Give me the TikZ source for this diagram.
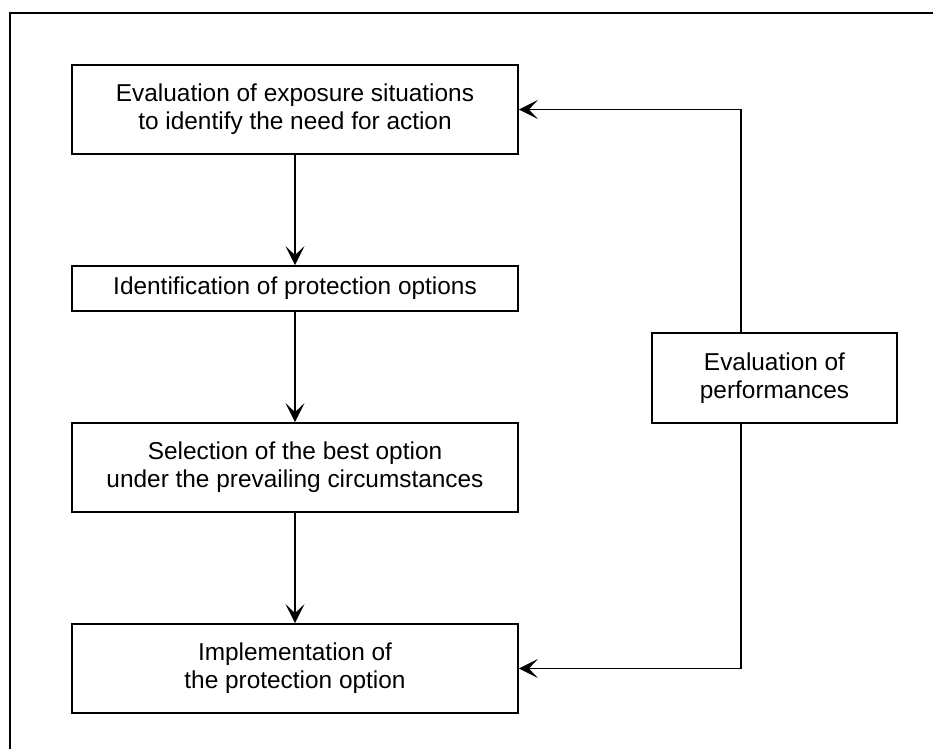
\documentclass[tikz,border=0pt]{standalone}
\usepackage{fontspec}
\setmainfont{Liberation Sans}
\usetikzlibrary{arrows.meta}

\begin{document}
\begin{tikzpicture}[x=1pt, y=-1pt, line width=1.8pt,
		every node/.style={text centered, font=\fontsize{24.4}{28}\selectfont},
		stepbox/.style={rectangle, draw, align=center, inner sep=0pt, minimum width=446pt, minimum height=89pt},
		flow/.style={-{Stealth[length=19pt, width=19pt, inset=9pt]}}]
		\useasboundingbox (0, 0) rectangle (933, 749);
		\draw (10, 749) -- (10, 13) -- (933, 13);

		\draw (295, 109.5)	node[stepbox] (eval)
				{Evaluation of exposure situations\\to identify the need for action}
			(295, 288.5)	node[stepbox, minimum height=45pt] (ident)
				{Identification of protection options}
			(295, 467.5)	node[stepbox] (select)
				{Selection of the best option\\under the prevailing circumstances}
			(295, 668.5)	node[stepbox] (impl)
				{Implementation of\\the protection option}

			(774.5, 378)	node[stepbox, minimum width=245pt, minimum height=90pt] (perf)
				{Evaluation of\\performances}
;
		\coordinate (tap) at (741, 378);

		\draw[flow] (eval) -- (ident);
		\draw[flow] (ident) -- (select);
		\draw[flow] (select) -- (impl);
		\draw[flow] (tap |- perf.north) |- (eval);
		\draw[flow] (tap |- perf.south) |- (impl);
\end{tikzpicture}
\end{document}
